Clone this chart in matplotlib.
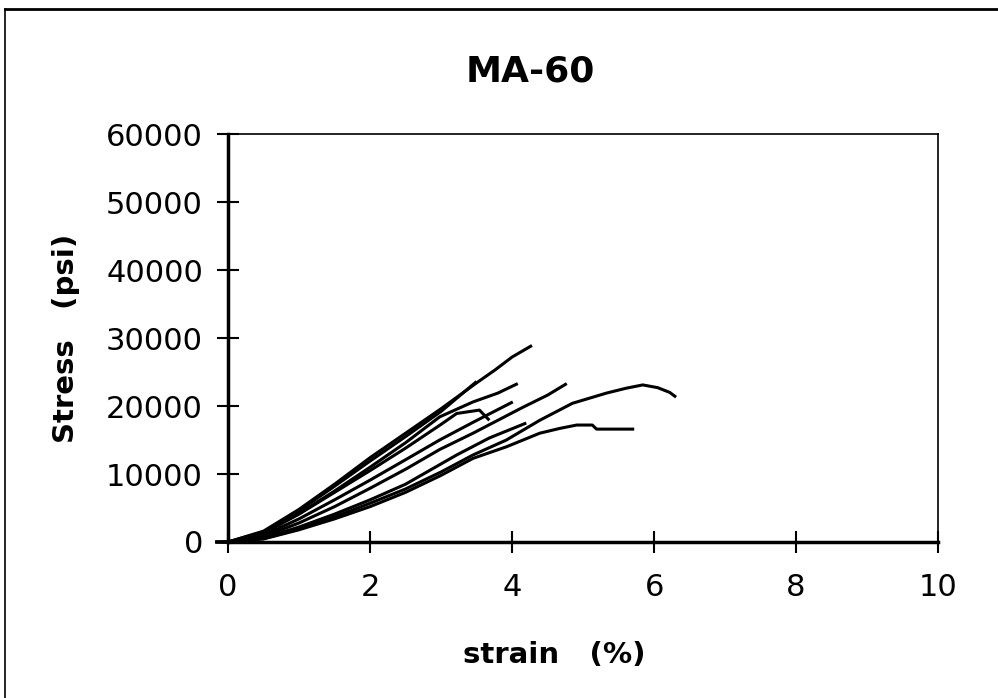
import numpy as np
import matplotlib.pyplot as plt
from matplotlib.lines import Line2D

# stress-strain curves (strain %, stress psi)
strain_1 = [-0.18, 0, 0.5, 1, 1.5, 2, 2.5, 3, 3.5, 3.76, 4.0, 4.28]
stress_1 = [0, 0, 1600, 4800, 8500, 12400, 16000, 19600, 23400, 25300, 27200, 28900]

strain_2 = [-0.18, 0, 0.5, 1, 1.5, 2, 2.5, 3, 3.5]
stress_2 = [0, 0, 1500, 4600, 8200, 11900, 15500, 19200, 23600]

strain_3 = [-0.18, 0, 0.5, 1, 1.5, 2, 2.5, 2.98, 3.45, 3.8, 4.08]
stress_3 = [0, 0, 1300, 4200, 7500, 11000, 14600, 18400, 20600, 21900, 23300]

strain_4 = [-0.1, 0, 0.5, 1, 1.5, 2, 2.5, 3.0, 3.22, 3.54, 3.68]
stress_4 = [0, 0, 1300, 4100, 7300, 10500, 13800, 17300, 18900, 19400, 17900]

strain_5 = [0, 0.5, 1, 1.5, 2, 2.5, 2.98, 3.45, 4.01]
stress_5 = [0, 1000, 3400, 6200, 9100, 12100, 15000, 17600, 20600]

strain_6 = [0, 0.5, 1, 1.5, 2, 2.5, 2.98, 3.45, 4.15, 4.5, 4.77]
stress_6 = [0, 800, 2800, 5200, 7900, 10700, 13600, 16000, 19800, 21600, 23300]

strain_7 = [0, 0.5, 1, 1.5, 2, 2.5, 3.22, 3.68, 4.2]
stress_7 = [0, 600, 2200, 4100, 6200, 8500, 12800, 15300, 17500]

strain_8 = [0, 0.5, 1, 1.5, 2, 2.5, 3.0, 3.45, 3.92, 4.39, 4.85, 5.33, 5.6, 5.84, 6.05, 6.22, 6.31]
stress_8 = [0, 500, 1900, 3700, 5700, 7800, 10300, 12800, 15000, 17900, 20400, 21900, 22600, 23100, 22700, 22000, 21300]

strain_9 = [0, 0.5, 1, 1.5, 2, 2.5, 3.0, 3.45, 3.92, 4.39, 4.67, 4.91, 5.13, 5.19, 5.72]
stress_9 = [0, 450, 1800, 3400, 5200, 7300, 9800, 12300, 14000, 16000, 16700, 17200, 17200, 16600, 16600]

curves = [(strain_1, stress_1), (strain_2, stress_2), (strain_3, stress_3),
          (strain_4, stress_4), (strain_5, stress_5), (strain_6, stress_6),
          (strain_7, stress_7), (strain_8, stress_8), (strain_9, stress_9)]

x_ticks = [0, 2, 4, 6, 8, 10]
y_ticks = [0, 10000, 20000, 30000, 40000, 50000, 60000]

fig = plt.figure(figsize=(9.98, 6.98), dpi=100)
ax = fig.add_axes([0.2285, 0.2235, 0.7115, 0.5845])

for s, p in curves:
    ax.plot(s, p, color='black', lw=2.2, clip_on=False, solid_capstyle='butt')

ax.set_xlim(0, 10)
ax.set_ylim(0, 60000)
ax.set_xticks(x_ticks)
ax.set_yticks(y_ticks)
ax.set_xticklabels([str(t) for t in x_ticks])
ax.set_yticklabels([str(t) for t in y_ticks])

ax.tick_params(axis='both', direction='inout', length=16, width=1.5, labelsize=22,
               colors='black')
ax.tick_params(axis='x', pad=14)
ax.tick_params(axis='y', pad=10)

ax.spines['left'].set_linewidth(2.5)
ax.spines['bottom'].set_linewidth(2.5)
ax.spines['top'].set_linewidth(1.2)
ax.spines['right'].set_linewidth(1.2)

fig.text(0.531, 1 - 72 / 698, 'MA-60', fontsize=26, fontweight='bold',
         ha='center', va='center')
ax.set_xlabel('strain   (%)', fontsize=21, fontweight='bold')
ax.xaxis.set_label_coords(0.46, -0.277)
ax.xaxis.label.set_va('center')
ax.set_ylabel('Stress   (psi)', fontsize=21, fontweight='bold')
ax.yaxis.set_label_coords(-0.228, 0.5)
ax.yaxis.label.set_va('center')

# outer frame of the scanned page
fig.add_artist(Line2D([0.005, 1.0], [0.987, 0.987], color='black', lw=2))
fig.add_artist(Line2D([0.005, 0.005], [0.0, 0.987], color='black', lw=1.2))

fig.savefig('out.png', dpi=100)
